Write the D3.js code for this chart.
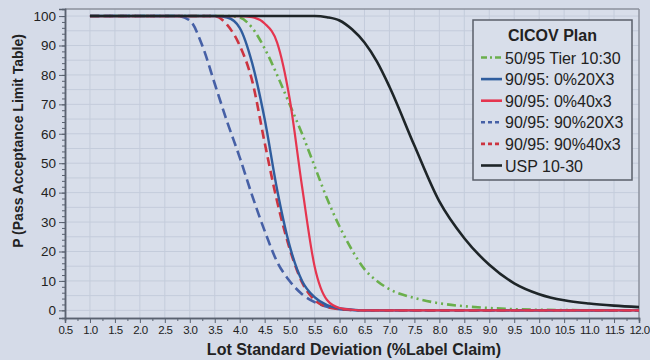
<!DOCTYPE html>
<html>
<head>
<meta charset="utf-8">
<script src="https://cdn.jsdelivr.net/npm/d3@7"></script>
<style>
  body { margin: 0; background: #d5dbe8; }
  svg { display: block; font-family: "Liberation Sans", Arial, sans-serif; }
</style>
</head>
<body>
<svg id="chart" width="650" height="360"></svg>
<script>
// lot standard deviation (%LC) where each curve was read
const sdGrid = [1.0, 2.5, 2.75, 3.0, 3.25, 3.5, 3.75, 4.0, 4.25, 4.5, 4.75, 5.0, 5.25, 5.5, 5.75,
  6.0, 6.25, 6.5, 6.75, 7.0, 7.5, 8.0, 8.5, 9.0, 9.5, 10.0, 10.5, 11.0, 11.5, 12.0];

// probability of passing (%) per plan
const tier1030 = [100, 100, 100, 100, 100, 100, 100, 99.5, 96, 89, 80, 70, 60, 49, 38,
  28.5, 20.5, 14, 10, 7.2, 4.2, 2.4, 1.4, 0.8, 0.4, 0.2, 0.1, 0, 0, 0];
const p0_20x3 = [100, 100, 100, 100, 100, 100, 99.5, 96, 84, 65, 41, 22, 10, 4.5, 1.8,
  0.7, 0.2, 0, 0, 0, 0, 0, 0, 0, 0, 0, 0, 0, 0, 0];
const p0_40x3 = [100, 100, 100, 100, 100, 100, 100, 100, 99.6, 97.5, 91, 72, 42, 15, 3.5,
  0.8, 0.2, 0, 0, 0, 0, 0, 0, 0, 0, 0, 0, 0, 0, 0];
const p90_20x3 = [100, 100, 100, 98.5, 90, 77, 64, 52, 39, 27, 16.5, 10, 5.5, 2.8, 1.2,
  0.4, 0.1, 0, 0, 0, 0, 0, 0, 0, 0, 0, 0, 0, 0, 0];
const p90_40x3 = [100, 100, 100, 100, 100, 100, 97, 90, 78, 57, 37, 21, 9.5, 3.5, 1.2,
  0.4, 0.1, 0, 0, 0, 0, 0, 0, 0, 0, 0, 0, 0, 0, 0];
const usp1030 = [100, 100, 100, 100, 100, 100, 100, 100, 100, 100, 100, 100, 100, 100, 99.6,
  98.5, 95.5, 91, 84.5, 76, 56, 37, 24.5, 15.5, 9.2, 5.5, 3.4, 2.3, 1.6, 1.1];

const legendNames = ['50/95 Tier 10:30', '90/95: 0%20X3', '90/95: 0%40x3',
  '90/95: 90%20X3', '90/95: 90%40x3', 'USP 10-30'];
const xTickValues = d3.range(0.5, 12.01, 0.5);
const yTickValues = d3.range(0, 101, 10);

// styling for each plan, in legend order
const series = [
  { name: legendNames[0], values: tier1030, color: '#6aaf4c', dash: '9,4,2,4,2,4', width: 2.6 },
  { name: legendNames[1], values: p0_20x3, color: '#2f5d9e', dash: null, width: 2.4 },
  { name: legendNames[2], values: p0_40x3, color: '#e5354f', dash: null, width: 2.2 },
  { name: legendNames[3], values: p90_20x3, color: '#4660a6', dash: '10,5', width: 2.6 },
  { name: legendNames[4], values: p90_40x3, color: '#cc3440', dash: '9,5', width: 2.6 },
  { name: legendNames[5], values: usp1030, color: '#1e2528', dash: null, width: 2.6 }
];
const drawOrder = [0, 3, 4, 1, 2, 5];

const svg = d3.select('#chart');
const margin = { top: 9, right: 11, bottom: 42, left: 65 };
const width = 650 - margin.left - margin.right;
const height = 360 - margin.top - margin.bottom;

const x = d3.scaleLinear().domain([0.5, 12]).range([0, width]);
const y = d3.scaleLinear().domain([-2.6, 102.4]).range([height, 0]);

const g = svg.append('g').attr('transform', `translate(${margin.left},${margin.top})`);

// plot background
g.append('rect').attr('width', width).attr('height', height).attr('fill', '#d8deea');

// grid
g.append('g').selectAll('line').data(d3.range(1.0, 12, 0.5))
  .join('line')
  .attr('x1', d => x(d)).attr('x2', d => x(d))
  .attr('y1', 0).attr('y2', height)
  .attr('stroke', '#c4ccdb').attr('stroke-width', 1);
g.append('g').selectAll('line').data(d3.range(0, 101, 5))
  .join('line')
  .attr('x1', 0).attr('x2', width)
  .attr('y1', d => y(d)).attr('y2', d => y(d))
  .attr('stroke', '#c4ccdb').attr('stroke-width', 1);

// frame top / right
g.append('line').attr('x1', 0).attr('x2', width).attr('y1', 0).attr('y2', 0)
  .attr('stroke', '#8b919c').attr('stroke-width', 1.5);
g.append('line').attr('x1', width).attr('x2', width).attr('y1', 0).attr('y2', height)
  .attr('stroke', '#8b919c').attr('stroke-width', 1.5);

// curves
const line = d3.line()
  .x((d, i) => x(sdGrid[i]))
  .y(d => y(d))
  .curve(d3.curveMonotoneX);

drawOrder.forEach(k => {
  const s = series[k];
  g.append('path')
    .datum(s.values)
    .attr('fill', 'none')
    .attr('stroke', s.color)
    .attr('stroke-width', s.width)
    .attr('stroke-dasharray', s.dash)
    .attr('stroke-linejoin', 'round')
    .attr('d', line);
});

// axes
const xAxisG = g.append('g').attr('transform', `translate(0,${height})`);
xAxisG.append('g')
  .call(d3.axisBottom(x).tickValues(d3.range(0.75, 12, 0.5)).tickSize(3).tickFormat(''));
xAxisG.append('g')
  .call(d3.axisBottom(x).tickValues(xTickValues).tickSize(5).tickPadding(3).tickFormat(d3.format('.1f')));
xAxisG.selectAll('text')
  .attr('font-size', '11.5px').attr('letter-spacing', '-0.6px').attr('fill', '#222');

const yAxisG = g.append('g');
yAxisG.append('g')
  .call(d3.axisLeft(y).tickValues(d3.range(0, 101, 2)).tickSize(3).tickFormat(''));
yAxisG.append('g')
  .call(d3.axisLeft(y).tickValues(yTickValues).tickSize(6).tickPadding(3));
yAxisG.selectAll('text').attr('font-size', '13.5px').attr('fill', '#222');

svg.selectAll('.domain').attr('stroke', '#5a6270').attr('stroke-width', 1.5);
svg.selectAll('.tick line').attr('stroke', '#5a6270');

// axis titles
svg.append('text')
  .attr('x', 354).attr('y', 355)
  .attr('text-anchor', 'middle')
  .attr('font-size', '16px').attr('font-weight', 'bold').attr('fill', '#222')
  .text('Lot Standard Deviation (%Label Claim)');

svg.append('text')
  .attr('transform', 'translate(23,141) rotate(-90)')
  .attr('text-anchor', 'middle')
  .attr('font-size', '14px').attr('font-weight', 'bold').attr('fill', '#222')
  .text('P (Pass Acceptance Limit Table)');

// legend
const legend = svg.append('g').attr('transform', 'translate(473,20)');
legend.append('rect')
  .attr('width', 159).attr('height', 160)
  .attr('fill', '#d8deea').attr('stroke', '#5a5f6a').attr('stroke-width', 1.5);
legend.append('text')
  .attr('x', 79.5).attr('y', 21)
  .attr('text-anchor', 'middle')
  .attr('font-size', '16px').attr('font-weight', 'bold').attr('fill', '#222')
  .text('CICOV Plan');

const item = legend.selectAll('g.item').data(series)
  .join('g')
  .attr('class', 'item')
  .attr('transform', (d, i) => `translate(0,${37.5 + i * 21.6})`);
item.append('line')
  .attr('x1', 8).attr('x2', 29).attr('y1', 0).attr('y2', 0)
  .attr('stroke', d => d.color).attr('stroke-width', 2.6)
  .attr('stroke-dasharray', d => d.dash ? (d.dash.length > 5 ? '6,3,2,3' : '4,3') : null);
item.append('text')
  .attr('x', 32).attr('y', 6)
  .attr('font-size', '16px').attr('fill', '#222')
  .text(d => d.name);
</script>
</body>
</html>
